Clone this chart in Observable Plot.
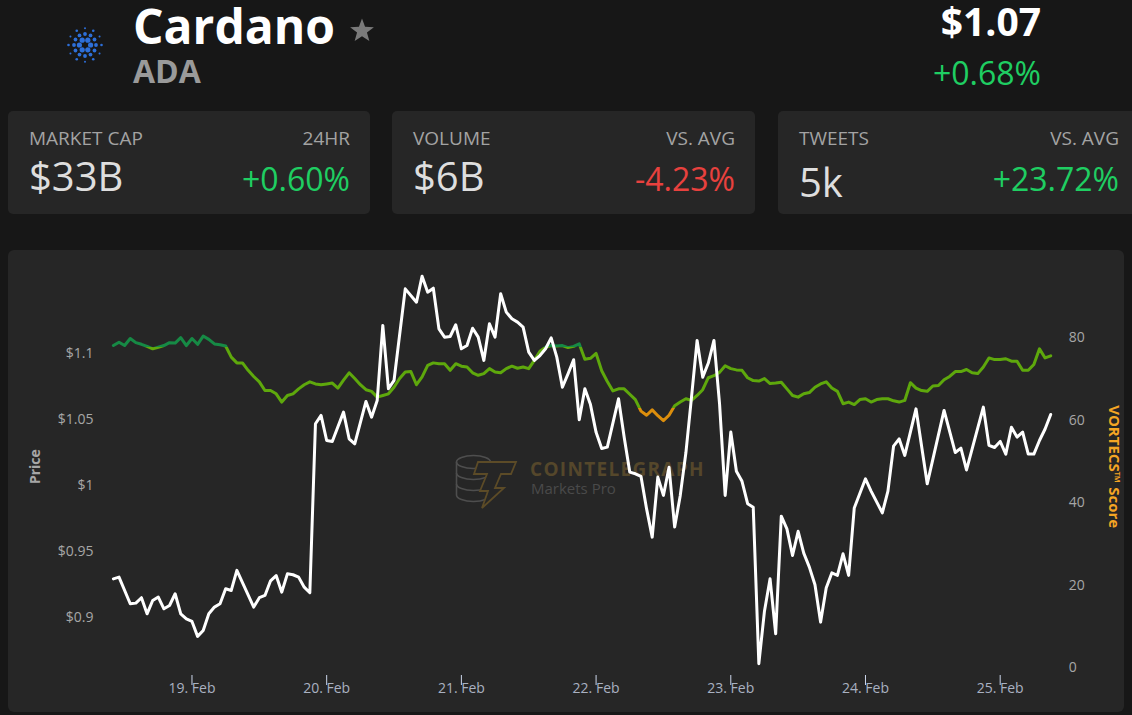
<!DOCTYPE html>
<html><head><meta charset="utf-8">
<script src="https://cdn.jsdelivr.net/npm/d3@7"></script>
<script src="https://cdn.jsdelivr.net/npm/@observablehq/plot@0.6"></script>
<style>
html,body{margin:0;padding:0;background:#171717;}
#page{position:relative;width:1132px;height:715px;overflow:hidden;font-family:"Open Sans",sans-serif;}
#header{position:absolute;left:0;top:0;}
#panel{position:absolute;left:8px;top:250px;width:1116px;height:462px;background:#262626;border-radius:6px;}
#wm{position:absolute;left:0;top:0;}
#chart{position:absolute;left:0;top:0;}
</style></head>
<body><div id="page">
<svg id="header" width="1132" height="250" font-family="'Open Sans', sans-serif"></svg>
<div id="panel">
<svg id="wm" width="1116" height="462"></svg>
<div id="chart"></div>
</div>
</div>
<script>
// ---------- data ----------
const coinName = "Cardano";
const coinSymbol = "ADA";
const currentPrice = "$1.07";
const priceChange = "+0.68%";
const statLabels = ["MARKET CAP", "VOLUME", "TWEETS"];
const statValues = ["$33B", "$6B", "5k"];
const statCompareLabels = ["24HR", "VS. AVG", "VS. AVG"];
const statChanges = ["+0.60%", "-4.23%", "+23.72%"];

// hours counted from 18 Feb 2021 00:00 UTC
const priceHours = [10,11,13,14,15,16,17,18,19,20,21,22,23,24,25,26,27,28,29,30,31,32,35,36,37,38,39,40,41,42,43,44,45,46,47,48,49,51,52,53,55,56,57,58,59,60,62,64,65,66,67,68,69,70,71,72,73,74,75,76,77,78,79,80,81,82,83,84,85,86,87,88,89,90,91,92,93,94,95,96,97,98,100,101,102,103,104,105,106,107,108,109,110,111,112,113,114,115,116,117,118,119,120,121,122,123,124,125,126,127,128,129,130,131,132,133,134,135,136,137,138,139,140,141,142,144,145,147,148,149,150,151,153,155,158,160,161,162,165,166,167,168,169,170,171,172,173,174,175,176,177];
const priceValues = [0.9295,0.9308,0.9106,0.9111,0.9152,0.9030,0.9131,0.9157,0.9068,0.9093,0.9182,0.9030,0.8992,0.8972,0.8859,0.8904,0.9030,0.9081,0.9106,0.9220,0.9207,0.9359,0.9081,0.9152,0.9169,0.9280,0.9320,0.9194,0.9333,0.9326,0.9308,0.9232,0.9190,1.0470,1.0533,1.0343,1.0336,1.0558,1.0356,1.0318,1.0639,1.0520,1.0646,1.1215,1.0735,1.0798,1.1492,1.1391,1.1588,1.1467,1.1497,1.1189,1.1126,1.1131,1.1220,1.1038,1.1063,1.1194,1.1126,1.0950,1.1227,1.1126,1.1455,1.1316,1.1265,1.1240,1.1202,1.1013,1.0950,1.0987,1.1038,1.1121,1.0975,1.0747,1.0848,1.0955,1.0500,1.0735,1.0615,1.0405,1.0283,1.0293,1.0659,1.0370,1.0104,1.0091,1.0072,0.9825,0.9611,1.0066,0.9927,1.0141,0.9687,0.9927,1.0250,1.0670,1.1101,1.0823,1.0930,1.1101,1.0620,0.9927,1.0407,1.0110,1.0034,0.9864,0.9838,0.8652,0.9050,0.9295,0.8879,0.9770,0.9674,0.9472,0.9655,0.9490,0.9384,0.9250,0.8967,0.9226,0.9340,0.9321,0.9485,0.9321,0.9832,1.0053,0.9960,0.9795,0.9960,1.0300,1.0355,1.0230,1.0583,1.0015,1.0571,1.0252,1.0285,1.0120,1.0596,1.0306,1.0290,1.0336,1.0240,1.0444,1.0369,1.0407,1.0240,1.0240,1.0343,1.0430,1.0540];

const scoreStartHour = 10;
const scoreValues = [
78.1,78.9,78.1,79.8,78.8,78.4,77.9,77.3,77.7,78.1,
78.8,78.7,80.0,78.1,79.8,78.4,80.4,79.6,78.5,78.3,
78.0,75.3,73.9,73.9,72.1,70.6,69.3,67.2,67.2,66.4,
64.4,66.0,66.4,67.6,68.6,69.3,68.8,68.6,68.8,69.0,
67.8,69.7,71.5,70.1,68.6,67.4,67.0,65.6,66.0,66.4,
68.0,70.1,71.7,71.8,68.6,70.5,73.3,73.9,73.7,73.7,
72.1,73.7,73.1,72.9,71.5,70.9,71.3,72.5,71.7,71.5,
72.5,73.1,72.6,72.9,72.5,74.5,76.7,77.7,78.1,78.0,
78.1,77.6,77.9,78.5,74.8,75.0,76.2,72.0,69.4,67.1,
67.6,67.6,66.3,65.0,62.2,61.2,62.5,61.1,59.9,61.2,
63.5,64.4,65.2,64.8,66.0,67.4,70.3,70.8,71.6,73.2,
72.5,72.2,72.1,70.3,69.6,69.5,70.1,68.9,69.0,69.2,
67.6,66.0,65.6,66.4,66.7,68.0,68.8,69.3,67.8,67.0,
64.0,64.4,63.8,65.0,65.2,64.4,65.0,65.2,65.2,64.7,
64.4,64.8,69.1,67.8,67.2,67.0,68.3,68.4,69.8,70.6,
71.8,71.8,72.3,71.5,71.3,72.9,75.1,74.7,74.7,74.9,
74.3,74.3,72.1,72.1,73.5,77.3,75.1,75.6];

const dayTicks = ["2021-02-19","2021-02-20","2021-02-21","2021-02-22","2021-02-23","2021-02-24","2021-02-25"];
const priceTicks = [0.9, 0.95, 1, 1.05, 1.1];
const scoreTicks = [0, 20, 40, 60, 80];
const priceDomain = [0.8621, 1.1669];
const scoreDomain = [0, 97.5];
const scoreZoneHigh = 77.8;
const scoreZoneLow = 63;
const zoneColors = {high: "#168a45", mid: "#5ea80c", low: "#dc8e0c"};

// ---------- helpers ----------
const BASE = Date.UTC(2021, 1, 18);
const hourDate = h => new Date(BASE + h * 3600000);
const toPrice = s => priceDomain[0] + (s - scoreDomain[0]) / (scoreDomain[1] - scoreDomain[0]) * (priceDomain[1] - priceDomain[0]);
const priceData = priceHours.map((h, i) => ({date: hourDate(h), price: priceValues[i]}));
const scoreData = scoreValues.map((s, i) => ({date: hourDate(scoreStartHour + i), score: s}));
const days = dayTicks.map(d => new Date(d + "T00:00:00Z"));
const dayFmt = d3.utcFormat("%-d. %b");

// ---------- header ----------
const NS = "http://www.w3.org/2000/svg";
const header = d3.select("#header");
const logo = header.append("g").attr("transform", "translate(85,45)").attr("fill", "#2d6fd9");
const rings = [[6, 5.6, 2.6, 0], [12, 11, 1.9, 0], [6, 16.5, 1.3, 0], [6, 16.8, 1.0, 30]];
rings.forEach(([n, r, dr, off]) => {
  for (let k = 0; k < n; k++) {
    const a = (off + k * 360 / n) * Math.PI / 180;
    logo.append("circle").attr("cx", r * Math.cos(a)).attr("cy", r * Math.sin(a)).attr("r", dr);
  }
});
header.append("text").attr("x", 133).attr("y", 44).attr("font-size", 48).attr("font-weight", 700).attr("fill", "#fff").text(coinName);
const starPts = d3.range(10).map(k => {
  const r = k % 2 ? 5.2 : 12.5, a = (-90 + k * 36) * Math.PI / 180;
  return [362 + r * Math.cos(a), 31 + r * Math.sin(a)].join(",");
}).join(" ");
header.append("polygon").attr("points", starPts).attr("fill", "#7a7a7a");
header.append("text").attr("x", 133).attr("y", 83).attr("font-size", 32).attr("font-weight", 700).attr("fill", "#9a9a9a").text(coinSymbol);
header.append("text").attr("x", 1041).attr("y", 36).attr("font-size", 39).attr("font-weight", 700).attr("fill", "#fff").attr("text-anchor", "end").text(currentPrice);
header.append("text").attr("x", 1041).attr("y", 85).attr("font-size", 32).attr("fill", "#1fce62").attr("text-anchor", "end").text(priceChange);

const cardX = [8, 392, 778], cardW = [362, 363, 361];
statLabels.forEach((lab, i) => {
  const x0 = cardX[i], x1 = cardX[i] + cardW[i];
  header.append("rect").attr("x", x0).attr("y", 111).attr("width", cardW[i]).attr("height", 103).attr("rx", 5).attr("fill", "#262626");
  header.append("text").attr("x", x0 + 21).attr("y", 145).attr("font-size", 19).attr("fill", "#a3a3a3").text(lab);
  header.append("text").attr("x", x1 - 20).attr("y", 145).attr("font-size", 19).attr("fill", "#a3a3a3").attr("text-anchor", "end").text(statCompareLabels[i]);
  header.append("text").attr("x", x0 + 21).attr("y", i === 2 ? 197 : 191).attr("font-size", 40).attr("fill", "#dedede").text(statValues[i]);
  const ch = statChanges[i];
  header.append("text").attr("x", x1 - 20).attr("y", 191).attr("font-size", 32).attr("text-anchor", "end")
    .attr("fill", ch.startsWith("-") ? "#e8413e" : "#1fce62").text(ch);
});

// ---------- watermark ----------
const wm = d3.select("#wm");
const coins = wm.append("g").attr("fill", "none").attr("stroke", "#4e4e4e").attr("stroke-width", 1.6);
const cx = 465.5, rx = 17, ry = 6.5;
coins.append("ellipse").attr("cx", cx).attr("cy", 212).attr("rx", rx).attr("ry", ry);
[223, 234, 245].forEach(cy => coins.append("path").attr("d", `M${cx - rx},${cy} A${rx},${ry} 0 0 0 ${cx + rx},${cy}`));
coins.append("path").attr("d", `M${cx - rx},212 L${cx - rx},245 M${cx + rx},212 L${cx + rx},245`);
wm.append("path").attr("d", "M470,212 L508,212 L503,224 L493,224 L487,238 L496,238 L474,258 L480,241 L472,241 L479,224 L466,224 Z")
  .attr("fill", "#262626").attr("stroke", "#5c4b27").attr("stroke-width", 1.8).attr("stroke-linejoin", "miter");
wm.append("text").attr("x", 522).attr("y", 226).attr("font-size", 19).attr("font-weight", 700).attr("letter-spacing", 1.3)
  .attr("font-family", "'Open Sans', sans-serif").attr("fill", "#55472b").text("COINTELEGRAPH");
wm.append("text").attr("x", 523).attr("y", 244).attr("font-size", 15)
  .attr("font-family", "'Open Sans', sans-serif").attr("fill", "#4a4a4a").text("Markets Pro");

// ---------- chart ----------
const chart = Plot.plot({
  width: 1116, height: 462,
  marginLeft: 104.9, marginRight: 73.8, marginTop: 15, marginBottom: 44.7,
  style: {background: "transparent", fontFamily: "'Open Sans', sans-serif", fontSize: "14px", overflow: "visible"},
  x: {type: "utc", domain: [hourDate(10), hourDate(177)], axis: null},
  y: {domain: priceDomain, axis: null},
  marks: [
    Plot.ruleX(days, {x: d => d, stroke: "#ccd6eb", strokeWidth: 1, insetTop: 410, insetBottom: -17.7}),
    Plot.text(days, {x: d => d, frameAnchor: "bottom", dy: 24.7, text: d => dayFmt(d), fill: "#a9b1c1", fontSize: 14}),
    Plot.text(priceTicks, {y: d => d, frameAnchor: "left", dx: -20, textAnchor: "end", text: d => "$" + d, fill: "#a6a6a6", fontSize: 14}),
    Plot.text(scoreTicks, {y: d => toPrice(d), frameAnchor: "right", dx: 18, textAnchor: "start", text: d => String(d), fill: "#a6a6a6", fontSize: 14}),
    Plot.text(["Price"], {frameAnchor: "left", dx: -77.9, rotate: -90, textAnchor: "middle", fill: "#a6a6a6", fontWeight: "bold", fontSize: 14}),
    Plot.text(["VORTECS™ Score"], {frameAnchor: "right", dx: 62.8, rotate: 90, textAnchor: "middle", fill: "#f5a524", fontWeight: "bold", fontSize: 15}),
    Plot.line(scoreData, {x: "date", y: d => toPrice(d.score), stroke: "url(#scoreGrad)", strokeWidth: 3, strokeLinejoin: "round"}),
    Plot.line(priceData, {x: "date", y: "price", stroke: "#ffffff", strokeWidth: 3, strokeLinejoin: "round"})
  ]
});
const ys = chart.scale("y");
const yHigh = ys.apply(toPrice(scoreZoneHigh));
const yLow = ys.apply(toPrice(scoreZoneLow));
const defs = document.createElementNS(NS, "defs");
const grad = document.createElementNS(NS, "linearGradient");
grad.setAttribute("id", "scoreGrad");
grad.setAttribute("gradientUnits", "userSpaceOnUse");
grad.setAttribute("x1", 0); grad.setAttribute("x2", 0);
grad.setAttribute("y1", yHigh); grad.setAttribute("y2", yLow);
[[0, zoneColors.high], [0, zoneColors.mid], [1, zoneColors.mid], [1, zoneColors.low]].forEach(([o, c]) => {
  const s = document.createElementNS(NS, "stop");
  s.setAttribute("offset", o); s.setAttribute("stop-color", c);
  grad.appendChild(s);
});
defs.appendChild(grad);
chart.insertBefore(defs, chart.firstChild);
document.getElementById("chart").appendChild(chart);
</script>
</body></html>
